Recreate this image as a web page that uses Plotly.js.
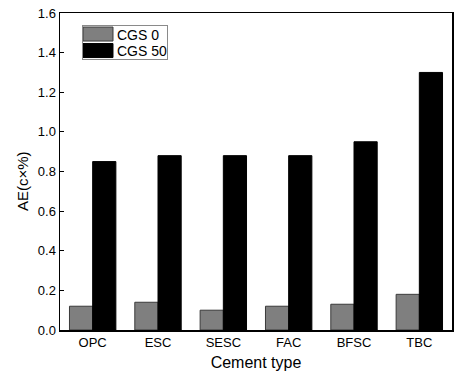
<!DOCTYPE html>
<html>
<head>
<meta charset="utf-8">
<script src="https://cdn.plot.ly/plotly-3.0.1.min.js"></script>
<style>html,body{margin:0;padding:0;background:#fff;}#chart{width:454px;height:374px;}</style>
</head>
<body>
<div id="chart"></div>
<script>
const categories = ["OPC", "ESC", "SESC", "FAC", "BFSC", "TBC"];
const cgs0 = [0.12, 0.14, 0.10, 0.12, 0.13, 0.18];
const cgs50 = [0.85, 0.88, 0.88, 0.88, 0.95, 1.30];
const seriesNames = ["CGS 0", "CGS 50"];
const yTicks = [0.0, 0.2, 0.4, 0.6, 0.8, 1.0, 1.2, 1.4, 1.6];

const font = "Liberation Sans, Arial, sans-serif";
const traces = [
  {type: "bar", name: seriesNames[0], x: categories, y: cgs0,
   marker: {color: "#7f7f7f", line: {color: "#3a3a3a", width: 1}}},
  {type: "bar", name: seriesNames[1], x: categories, y: cgs50,
   marker: {color: "#000000", line: {color: "#000000", width: 1}}}
];
const layout = {
  width: 454, height: 374,
  margin: {l: 60, r: 2, t: 13, b: 44},
  paper_bgcolor: "#fff", plot_bgcolor: "#fff",
  font: {family: font, color: "#000", size: 13},
  barmode: "group", bargap: 0.29, bargroupgap: 0,
  showlegend: true,
  legend: {x: 0.0561, y: 0.962, xanchor: "left", yanchor: "top",
           bordercolor: "#8a8a8a", borderwidth: 1, bgcolor: "#fff",
           font: {size: 14, family: font}, itemwidth: 30, tracegroupgap: 0},
  xaxis: {title: {text: "Cement type", font: {size: 16}, standoff: 7},
          showline: true, linecolor: "#000", linewidth: 1.5, mirror: true,
          ticks: "", tickfont: {size: 13}, showgrid: false, zeroline: false},
  yaxis: {range: [0, 1.6], tickvals: yTicks, ticktext: yTicks.map(v => v.toFixed(1)),
          showline: true, linecolor: "#000", linewidth: 1.5, mirror: true,
          ticks: "inside", ticklen: 4, tickcolor: "#000", tickfont: {size: 13},
          showgrid: false, zeroline: false},
  annotations: [{text: "AE(c×%)", xref: "paper", yref: "paper", x: -0.097, y: 0.47,
                 xanchor: "center", yanchor: "middle", textangle: -90, showarrow: false,
                 font: {size: 15, family: font, color: "#000"}}]
};
Plotly.newPlot("chart", traces, layout, {staticPlot: true}).then(() => {
  try {
    const bg = document.querySelector(".legend rect.bg");
    if (bg) { bg.setAttribute("width", 85); bg.setAttribute("height", 34); }
    const rows = [9, 25.5];
    document.querySelectorAll(".legend .traces").forEach((g, i) => {
      g.setAttribute("transform", "translate(0," + rows[i] + ")");
      const t = g.querySelector("text.legendtext");
      if (t) t.setAttribute("x", 35);
      g.querySelectorAll(".legendpoints path").forEach(p => {
        p.setAttribute("d", "M-15,-7H15V7H-15Z");
        p.setAttribute("transform", "translate(16,0)");
      });
    });
  } catch (e) {}
});
</script>
</body>
</html>
